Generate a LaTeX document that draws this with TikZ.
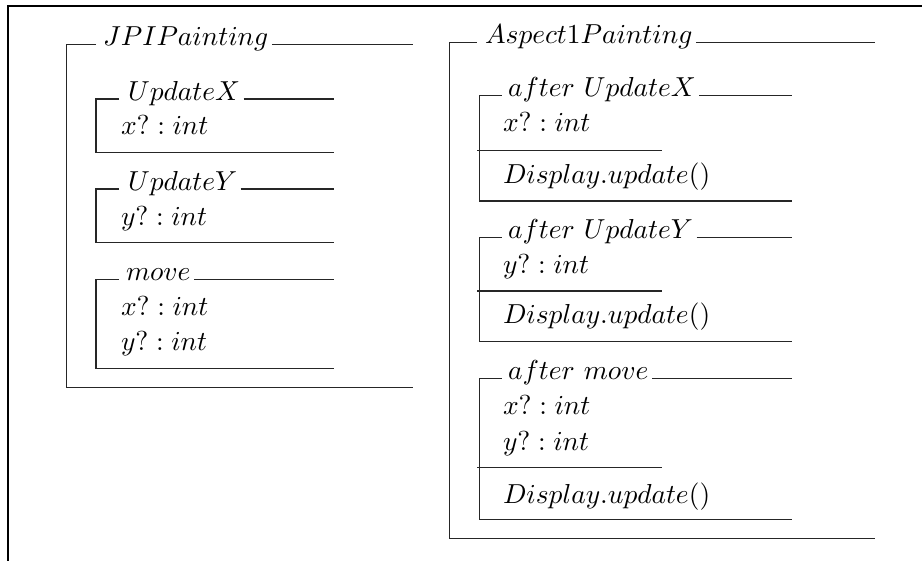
\documentclass[tikz,border=0pt]{standalone}
\usetikzlibrary{calc}
\begin{document}
\begin{tikzpicture}[x=0.3643pt,y=-0.3643pt,
  txt/.style={anchor=base west,inner sep=0pt,outer sep=0pt},
  ttl/.style={anchor=base west,inner ysep=0pt,inner xsep=1.3pt,outer sep=0pt},
  ln/.style={line width=0.42pt,black!85},
  frame/.style={line width=0.75pt,black}]
\useasboundingbox (0,0) rectangle (922,560);
% outer frame (only top and left visible)
\draw[frame] (8,562) -- (8,6) -- (924,6);

% ---------------- JPIPainting ----------------
\node[ttl] (jpi) at (99.5,45.5) {$JPIPainting$};
\draw[ln] (96,44.5) -- (66.5,44.5) -- (66.5,387.3) -- (413,387.3);
\draw[ln] (jpi.east |- 0,44.5) -- (413,44.5);

% UpdateX
\node[ttl] (ux) at (124.5,100) {$UpdateX$};
\node[txt] (uxa) at (121,134) {$x? : int$};
\draw[ln] (119,99) -- (96,99) -- (96,152.7) -- (334,152.7);
\draw[ln] (ux.east |- 0,99) -- (334,99);

% UpdateY
\node[ttl] (uy) at (124.5,190) {$UpdateY$};
\node[txt] (uya) at (121,225) {$y? : int$};
\draw[ln] (119,189) -- (96,189) -- (96,242.7) -- (334,242.7);
\draw[ln] (uy.east |- 0,189) -- (334,189);

% move
\node[ttl] (mv) at (122.5,280.3) {$move$};
\node[txt] (mva) at (121,315) {$x? : int$};
\node[txt] (mvb) at (121,350) {$y? : int$};
\draw[ln] (119,279.3) -- (96,279.3) -- (96,368.3) -- (334,368.3);
\draw[ln] (mv.east |- 0,279.3) -- (334,279.3);

% ---------------- Aspect1Painting ----------------
\node[ttl] (asp) at (481.5,43.3) {$Aspect1Painting$};
\draw[ln] (476.7,42.3) -- (449.3,42.3) -- (449.3,538.3) -- (875,538.3);
\draw[ln] (asp.east |- 0,42.3) -- (875,42.3);

% after UpdateX
\node[ttl] (aux) at (504.5,96.7) {$after\ UpdateX$};
\node[txt] (auxa) at (503,131.7) {$x? : int$};
\node[txt] (auxd) at (503,183) {$Display.update()$};
\draw[ln] (501.7,95.7) -- (479.3,95.7) -- (479.3,201) -- (792,201);
\draw[ln] (aux.east |- 0,95.7) -- (792,95.7);
\draw[ln] (477,150.7) -- (662,150.7);

% after UpdateY
\node[ttl] (auy) at (504.5,238.7) {$after\ UpdateY$};
\node[txt] (auya) at (503,273) {$y? : int$};
\node[txt] (auyd) at (503,323.3) {$Display.update()$};
\draw[ln] (501.7,237.7) -- (479.3,237.7) -- (479.3,341.7) -- (792,341.7);
\draw[ln] (auy.east |- 0,237.7) -- (792,237.7);
\draw[ln] (477,291) -- (662,291);

% after move
\node[ttl] (amv) at (504.5,379.3) {$after\ move$};
\node[txt] (amva) at (503,414.3) {$x? : int$};
\node[txt] (amvb) at (503,450) {$y? : int$};
\node[txt] (amvd) at (503,503.3) {$Display.update()$};
\draw[ln] (501.7,378.3) -- (479.3,378.3) -- (479.3,519.3) -- (792,519.3);
\draw[ln] (amv.east |- 0,378.3) -- (792,378.3);
\draw[ln] (477,467.7) -- (662,467.7);
\end{tikzpicture}
\end{document}
